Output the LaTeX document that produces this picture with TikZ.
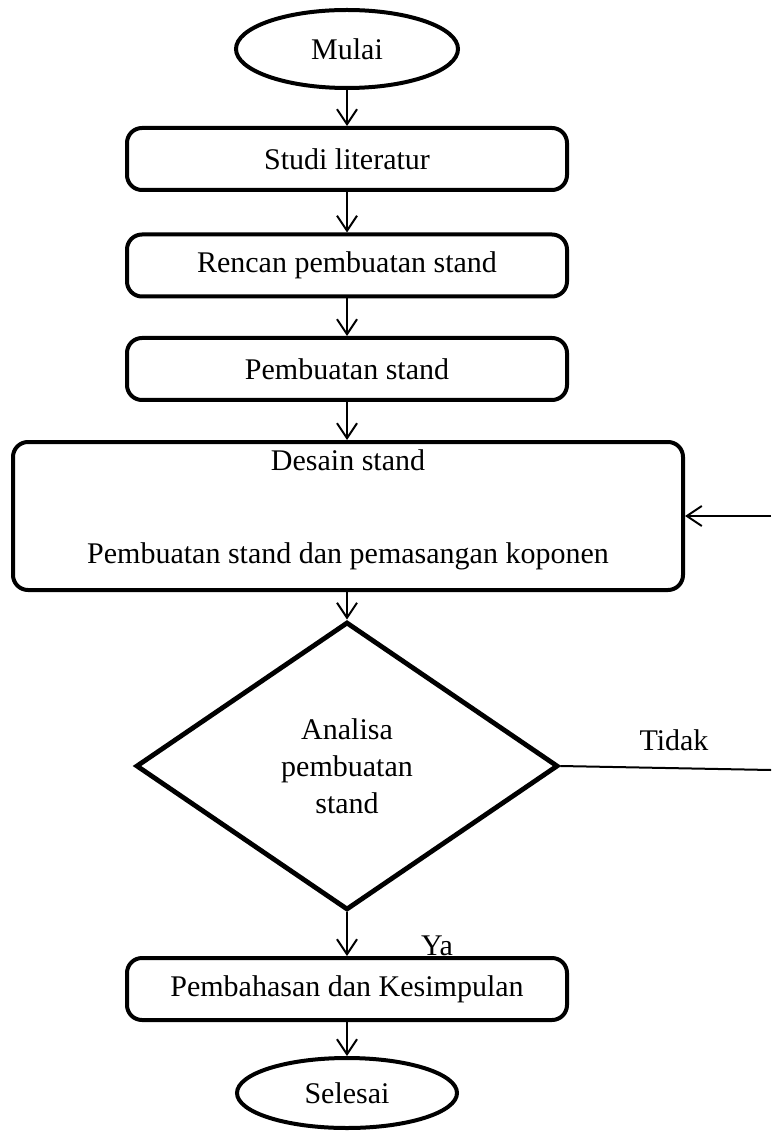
\documentclass[tikz,border=0pt]{standalone}
\usepackage{fontspec}
\setmainfont{Liberation Serif}
\usetikzlibrary{shapes.geometric,arrows.meta}
\tikzset{
  teks/.style={font=\fontsize{15}{18.5}\selectfont},
  terminal/.style={draw,ellipse,line width=2pt,inner sep=0pt,minimum width=111pt,minimum height=39pt,teks},
  proses/.style={draw,line width=2pt,rounded corners=7.5pt,inner sep=0pt,minimum width=220pt,minimum height=31pt,teks},
  keputusan/.style={draw,diamond,line width=2.4pt,inner sep=0pt,aspect=1.47,minimum width=211pt,minimum height=144pt,align=center,teks},
  panah/.style={line width=1pt,-{Straight Barb[length=7.5pt,width=10pt,line width=1pt]}}
}
\begin{document}
\begin{tikzpicture}[x=0.5pt,y=-0.5pt]
  \useasboundingbox (0,0) rectangle (771,1133);
  % langkah-langkah
  \node[terminal] (mulai) at (347,49) {Mulai};
  \node[proses] (studi) at (347,159) {Studi literatur};
  \node[proses] (rencana) at (347,265.5) {Rencan pembuatan stand};
  \node[proses] (buat) at (347,369) {Pembuatan stand};
  \node[proses,minimum width=335pt,minimum height=74pt] (desain) at (348,516) {};
  \node[teks] (desain1) at (348,460) {Desain stand};
  \node[teks] (desain2) at (348,556) {Pembuatan stand dan pemasangan koponen};
  \node[keputusan] (analisa) at (347,766) {Analisa\\pembuatan\\stand};
  \node[proses] (bahas) at (347,989) {Pembahasan dan Kesimpulan};
  \node[terminal,minimum width=110pt,minimum height=35pt] (selesai) at (347,1093) {Selesai};
  % label
  \node[teks] (tidak) at (674,740) {Tidak};
  \node[teks] (ya) at (437,946) {Ya};
  \coordinate (ujung1) at (771,770);
  \coordinate (ujung2) at (771,516);
  % panah
  \draw[panah] (mulai) -- (studi);
  \draw[panah] (studi) -- (rencana);
  \draw[panah] (rencana) -- (buat);
  \draw[panah] (buat) -- (desain.north -| buat);
  \draw[panah] (desain.south -| analisa.north) -- (analisa.north);
  \draw[panah] (analisa.south) -- (bahas.north -| analisa.south);
  \draw[panah] (bahas) -- (selesai);
  \draw[line width=1pt] (analisa.east) -- (ujung1);
  \draw[panah] (ujung2) -- (desain.east);
\end{tikzpicture}
\end{document}
